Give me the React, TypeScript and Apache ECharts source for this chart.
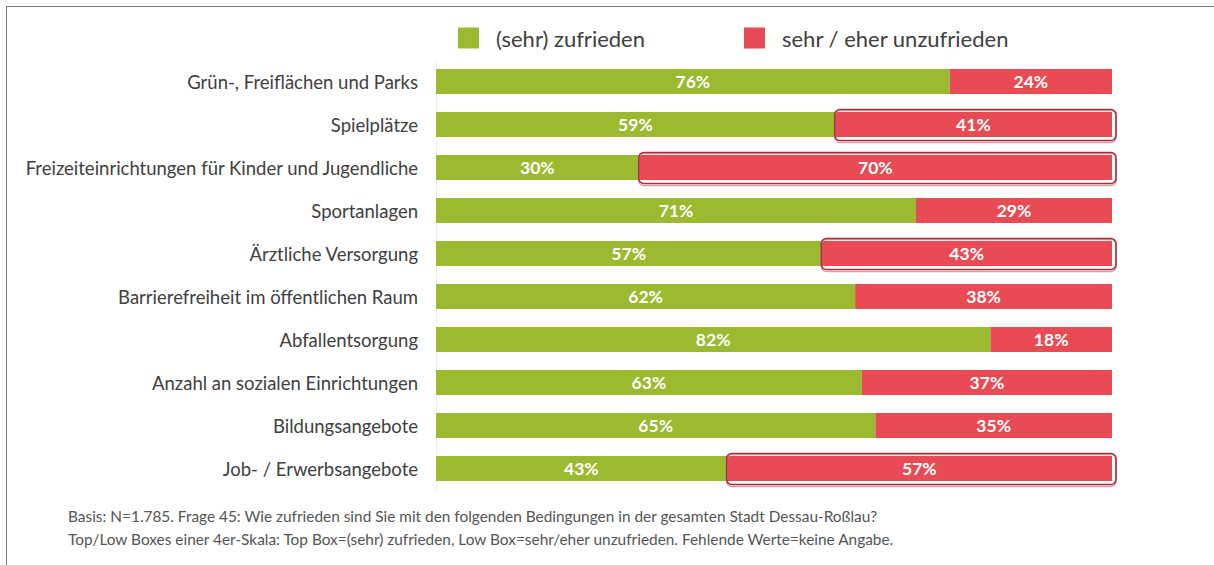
import React, { useEffect, useRef } from "react";
import * as echarts from "echarts";

const categories = [
  "Grün-, Freiflächen und Parks",
  "Spielplätze",
  "Freizeiteinrichtungen für Kinder und Jugendliche",
  "Sportanlagen",
  "Ärztliche Versorgung",
  "Barrierefreiheit im öffentlichen Raum",
  "Abfallentsorgung",
  "Anzahl an sozialen Einrichtungen",
  "Bildungsangebote",
  "Job- / Erwerbsangebote",
];
const zufrieden = [76, 59, 30, 71, 57, 62, 82, 63, 65, 43];
const unzufrieden = [24, 41, 70, 29, 43, 38, 18, 37, 35, 57];
const highlighted = [1, 2, 4, 9];
const seriesNames = ["(sehr) zufrieden", "sehr / eher unzufrieden"];
const footnotes = [
  "Basis: N=1.785. Frage 45: Wie zufrieden sind Sie mit den folgenden Bedingungen in der gesamten Stadt Dessau-Roßlau?",
  "Top/Low Boxes einer 4er-Skala: Top Box=(sehr) zufrieden, Low Box=sehr/eher unzufrieden. Fehlende Werte=keine Angabe.",
];

const GREEN = "#9cba2f";
const RED = "#e84b53";
const FONT = "Lato";

export default function App() {
  const ref = useRef<HTMLDivElement>(null);
  useEffect(() => {
    if (!ref.current) return;
    const chart = echarts.init(ref.current, null, { renderer: "svg" });
    const boxData = highlighted.map((i) => [zufrieden[i], i, zufrieden[i] + unzufrieden[i]]);
    const labelStyle = {
      show: true,
      position: "inside",
      color: "#ffffff",
      fontFamily: FONT,
      fontWeight: "bold",
      fontSize: 17.5,
      formatter: (p: any) => p.value + "%",
    };
    chart.setOption({
      animation: false,
      backgroundColor: "#ffffff",
      textStyle: { fontFamily: FONT },
      legend: {
        data: seriesNames,
        left: 458,
        top: 27,
        padding: 0,
        icon: "rect",
        itemWidth: 21,
        itemHeight: 21,
        itemGap: 99,
        textStyle: {
          fontFamily: FONT,
          fontSize: 22,
          color: "#404040",
          padding: [0, 0, 0, 12],
        },
        selectedMode: false,
      },
      grid: { left: 436, right: 102, top: 60, height: 430 },
      xAxis: {
        type: "value",
        min: 0,
        max: 100,
        show: false,
      },
      yAxis: {
        type: "category",
        data: categories,
        inverse: true,
        axisLine: { show: true, lineStyle: { color: "#f2ecec", width: 1 } },
        axisTick: { show: false },
        axisLabel: {
          fontFamily: FONT,
          fontSize: 18.5,
          color: "#404040",
          margin: 18,
        },
      },
      series: [
        {
          name: seriesNames[0],
          type: "bar",
          stack: "total",
          data: zufrieden,
          barWidth: 25,
          itemStyle: { color: GREEN },
          label: labelStyle,
        },
        {
          name: seriesNames[1],
          type: "bar",
          stack: "total",
          data: unzufrieden,
          barWidth: 25,
          itemStyle: { color: RED },
          label: labelStyle,
        },
        {
          type: "custom",
          z: 10,
          silent: true,
          data: boxData,
          encode: { x: [0, 2], y: 1 },
          renderItem: (params: any, api: any) => {
            const p1 = api.coord([api.value(0), api.value(1)]);
            const p2 = api.coord([api.value(2), api.value(1)]);
            return {
              type: "group",
              children: [
                {
                  type: "rect",
                  shape: { x: p1[0], y: p1[1] - 14, width: p2[0] - p1[0] + 4, height: 32, r: 5 },
                  style: { fill: "none", stroke: "#d9a0a3", lineWidth: 1.5 },
                },
                {
                  type: "rect",
                  shape: { x: p1[0], y: p1[1] - 15, width: p2[0] - p1[0] + 4, height: 31, r: 5 },
                  style: { fill: "none", stroke: "#a8323a", lineWidth: 1.6 },
                },
              ],
            };
          },
        },
      ],
      graphic: [
        {
          type: "line",
          shape: { x1: 6, y1: 6.5, x2: 1214, y2: 6.5 },
          style: { stroke: "#7a7a7a", lineWidth: 1 },
        },
        {
          type: "line",
          shape: { x1: 6.5, y1: 6, x2: 6.5, y2: 565 },
          style: { stroke: "#7a7a7a", lineWidth: 1 },
        },
        {
          type: "text",
          left: 68,
          top: 508,
          style: { text: footnotes[0], fontFamily: FONT, fontSize: 15.4, fill: "#555555" },
        },
        {
          type: "text",
          left: 68,
          top: 531,
          style: { text: footnotes[1], fontFamily: FONT, fontSize: 15.4, fill: "#555555" },
        },
      ],
    });
    return () => chart.dispose();
  }, []);
  return (
    <div
      ref={ref}
      style={{ position: "absolute", left: 0, top: 0, width: 1214, height: 565 }}
    />
  );
}
